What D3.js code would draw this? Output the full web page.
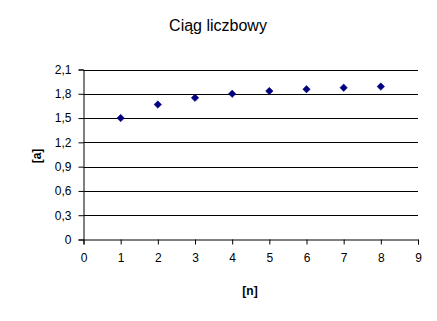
<!DOCTYPE html>
<html lang="pl">
<head>
<meta charset="UTF-8">
<title>Ciąg liczbowy</title>
<script src="https://d3js.org/d3.v7.min.js"></script>
<style>
    body, html { margin: 0; padding: 0; background: #fff; }
    svg { display: block; font-family: Arial, "Liberation Sans", sans-serif; }
    .tick text { font-size: 12px; fill: #000; }
    .title { font-size: 16px; }
    .axis-title { font-size: 12px; font-weight: bold; }
</style>
</head>
<body>
<svg id="chart" width="437" height="321"></svg>
<script>
    // data: n and a(n)
    const nValues = [1, 2, 3, 4, 5, 6, 7, 8];
    const aValues = [1.5, 1.667, 1.75, 1.8, 1.833, 1.857, 1.875, 1.889];
    const xTicks = [0, 1, 2, 3, 4, 5, 6, 7, 8, 9];
    const yTicks = [0, 0.3, 0.6, 0.9, 1.2, 1.5, 1.8, 2.1];

    const svg = d3.select("#chart");
    const plotLeft = 83.5, plotRight = 418, plotTop = 69.5, plotBottom = 239.5;

    const x = d3.scaleLinear().domain([0, 9]).range([plotLeft, plotRight]);
    const y = d3.scaleLinear().domain([0, 2.1]).range([plotBottom, plotTop]);

    // gridlines
    svg.append("g")
        .selectAll("line")
        .data(yTicks.filter(d => d > 0))
        .join("line")
        .attr("x1", plotLeft).attr("x2", plotRight)
        .attr("y1", d => Math.round(y(d)) + 0.5).attr("y2", d => Math.round(y(d)) + 0.5)
        .attr("stroke", "#000");

    const fmt = d => d3.format(".1f")(d).replace(".", ",");

    // y axis
    const yAxis = svg.append("g")
        .attr("transform", `translate(${plotLeft},0)`)
        .call(d3.axisLeft(y).tickValues(yTicks).tickSize(5).tickPadding(7)
            .tickFormat(d => d === 0 ? "0" : fmt(d)));

    // x axis
    const xAxis = svg.append("g")
        .attr("transform", `translate(0,${plotBottom})`)
        .call(d3.axisBottom(x).tickValues(xTicks).tickSize(5).tickPadding(9)
            .tickFormat(d3.format("d")));

    [yAxis, xAxis].forEach(g => {
        g.select(".domain").attr("stroke", "#000");
        g.selectAll(".tick line").attr("stroke", "#000");
    });
    svg.selectAll("g").attr("font-family", null).attr("font-size", null);

    // square diamond like Excel's marker
    const diamond = {
        draw(ctx, size) {
            const r = Math.sqrt(size / 2);
            ctx.moveTo(0, -r);
            ctx.lineTo(r, 0);
            ctx.lineTo(0, r);
            ctx.lineTo(-r, 0);
            ctx.closePath();
        }
    };

    // markers
    svg.append("g")
        .selectAll("path")
        .data(nValues.map((n, i) => [n, aValues[i]]))
        .join("path")
        .attr("transform", d => `translate(${x(d[0])},${y(d[1])})`)
        .attr("d", d3.symbol(diamond, 28))
        .attr("fill", "#000080")
        .attr("stroke", "#000080")
        .attr("stroke-width", 0.5);

    // titles
    svg.append("text")
        .attr("class", "title")
        .attr("x", 218).attr("y", 31)
        .attr("text-anchor", "middle")
        .text("Ciąg liczbowy");

    svg.append("text")
        .attr("class", "axis-title")
        .attr("x", 250).attr("y", 295)
        .attr("text-anchor", "middle")
        .text("[n]");

    svg.append("text")
        .attr("class", "axis-title")
        .attr("transform", "translate(41,156) rotate(-90)")
        .attr("text-anchor", "middle")
        .text("[a]");
</script>
</body>
</html>
